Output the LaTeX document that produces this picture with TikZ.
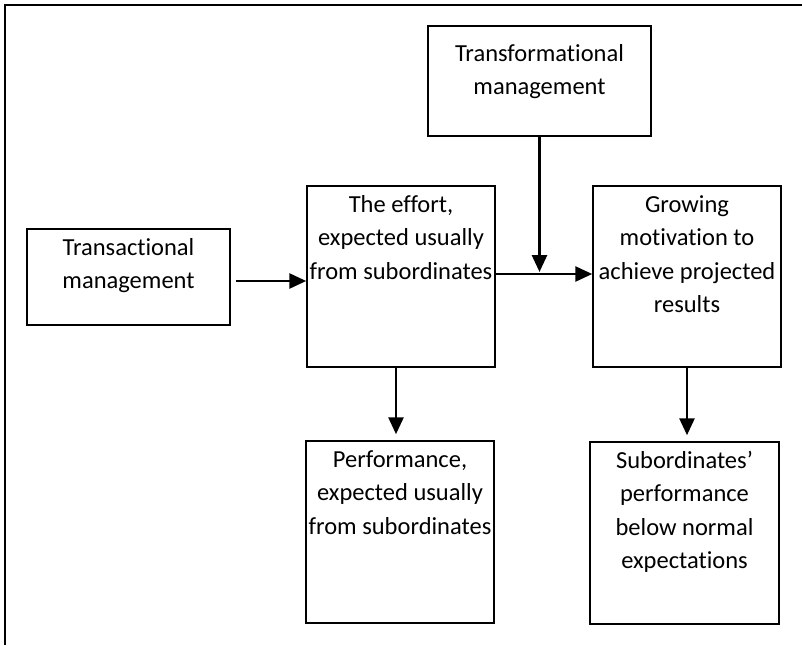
\documentclass[tikz,border=0pt]{standalone}
\usepackage{fontspec}
\setmainfont{Carlito}[Ligatures={NoCommon, NoRare, NoContextual}]
\usepackage{tikz}
\usetikzlibrary{positioning, calc, arrows.meta}
\tikzset{box/.style = {draw, line width=1.5pt, inner sep=0pt},
  txt/.style = {align=center, inner sep=0pt, font=\fontsize{24.5}{33.3}\selectfont},
  arr/.style = {line width=2.8pt, -{Triangle[length=17pt, width=15pt]}}}
\newcommand{\topstrut}{\rule{0pt}{20pt}}

\begin{document}
\begin{tikzpicture}[x = 1pt, y = -1pt]
\useasboundingbox (0,0) rectangle (802,645);
\draw[line width=1.5pt] (5,645) -- (5,5) -- (802,5);
% boxes
\node[box, minimum width=223pt, minimum height=110pt] (trfo) at (539.5,81) {};
\node[box, minimum width=203pt, minimum height=96pt] (trac) at (128.5,277) {};
\node[box, minimum width=188pt, minimum height=181pt] (effort) at (401,276.5) {};
\node[box, minimum width=188pt, minimum height=181pt] (growing) at (687,276.5) {};
\node[box, minimum width=188pt, minimum height=182pt] (perf) at (400,532) {};
\node[box, minimum width=189pt, minimum height=182pt] (sub) at (684.5,533) {};
% texts
\node[txt, below=16pt of trfo.north] (trfo-t) {\topstrut Transformational\\management};
\node[txt, below=7pt of trac.north] (trac-t) {\topstrut Transactional\\management};
\node[txt, below=7pt of effort.north] (effort-t) {\topstrut The effort,\\expected usually\\from subordinates};
\node[txt, below=7pt of growing.north] (growing-t) {\topstrut Growing\\motivation to\\achieve projected\\results};
\node[txt, below=7pt of perf.north] (perf-t) {\topstrut Performance,\\expected usually\\from subordinates};
\node[txt, below=7pt of sub.north] (sub-t) {\topstrut Subordinates’\\performance\\below normal\\expectations};
% arrows
\draw[arr] ([xshift=5pt, yshift=-4pt]trac.east) -- ([yshift=-4pt]trac.east -| effort.west);
\draw[arr] ([yshift=2.5pt]effort.east) -- ([yshift=2.5pt]growing.west);
\draw[arr] (trfo.south) -- ($(trfo.south |- effort.east)+(0,-4.5)$);
\draw[arr] ($(effort.south)+(-5,0)$) -- ($(perf.north -| effort.south)+(-5,-6)$);
\draw[arr] (growing.south) -- ($(sub.north -| growing.south)+(0,-6)$);
\end{tikzpicture}
\end{document}
